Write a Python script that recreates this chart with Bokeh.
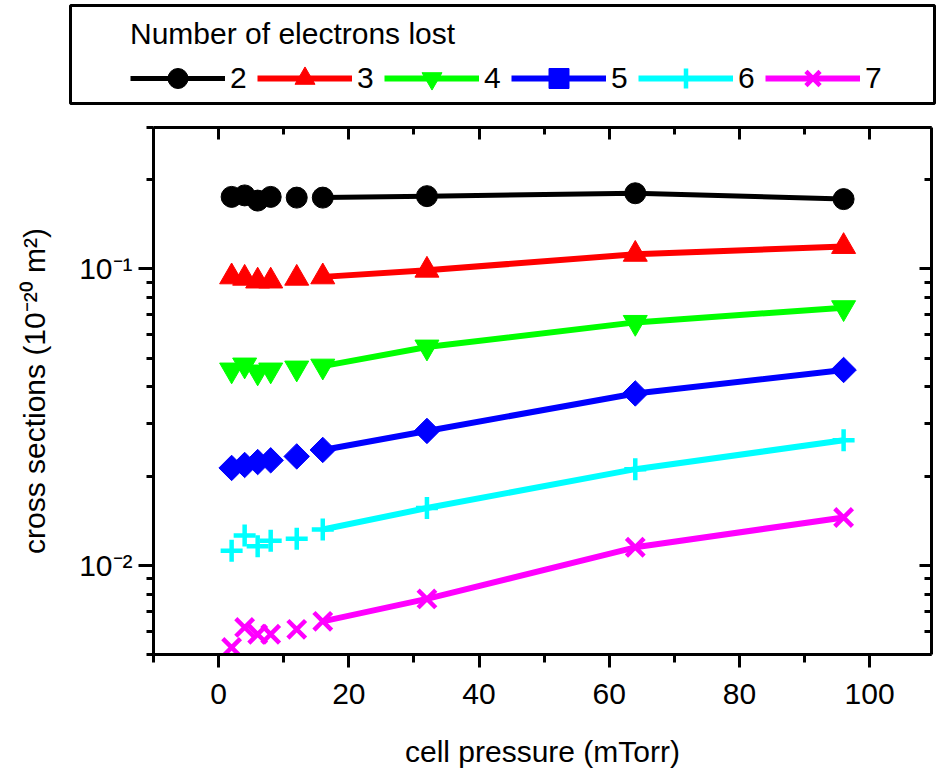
import numpy as np
from bokeh.plotting import figure
from bokeh.models import (LinearAxis, LogAxis, FixedTicker, Legend, LegendItem,
                          Range1d, CustomLabelingPolicy)
from bokeh.embed import file_html
from bokeh.resources import INLINE

# ---------------- data ----------------
pressure = [2, 4, 6, 8, 12, 16, 32, 64, 96]          # cell pressure (mTorr)
series_names = ["2", "3", "4", "5", "6", "7"]          # number of electrons lost
cs_2 = [0.175, 0.177, 0.170, 0.175, 0.174, 0.174, 0.176, 0.180, 0.172]
cs_3 = [0.094, 0.093, 0.091, 0.091, 0.093, 0.094, 0.099, 0.112, 0.119]
cs_4 = [0.0456, 0.0474, 0.0449, 0.0456, 0.0463, 0.0470, 0.0545, 0.066, 0.074]
cs_5 = [0.0213, 0.0218, 0.0223, 0.0226, 0.0233, 0.0245, 0.0284, 0.0380, 0.0456]
cs_6 = [0.0112, 0.0126, 0.0116, 0.0121, 0.0123, 0.0132, 0.0156, 0.0211, 0.0264]
cs_7 = [0.00528, 0.00617, 0.00585, 0.00585, 0.00608, 0.00647, 0.0077, 0.0115, 0.0145]
line_from_pressure = 16   # connecting line drawn from this pressure on

x_major_ticks = [0, 20, 40, 60, 80, 100]
x_minor_ticks = [-10, 10, 30, 50, 70, 90, 110]
y_major_ticks = [0.01, 0.1]
y_minor_ticks = [0.005, 0.006, 0.007, 0.008, 0.009,
                 0.02, 0.03, 0.04, 0.05, 0.06, 0.07, 0.08, 0.09, 0.2, 0.3]
y_tick_labels = {0.01: "10\u207b\u00b2", 0.1: "10\u207b\u00b9"}
x_label = "cell pressure (mTorr)"
y_label = "cross sections (10\u207b\u00b2\u2070 m\u00b2)"
legend_title = "Number of electrons lost"

# ---------------- styles ----------------
FONT = "Liberation Sans"
colors = ["#000000", "#FF0000", "#00FF00", "#0000FF", "#00FFFF", "#FF00FF"]
markers = ["circle", "triangle", "inverted_triangle", "square", "cross", "x"]
msizes = [21, 24, 24, 18, 22, 25]
mangles = [0, 0, 0, np.pi / 4, 0, 0]
lwidths = [5, 6, 6, 6, 6, 6]
series = [cs_2, cs_3, cs_4, cs_5, cs_6, cs_7]


def add_series(fig, i, vals):
    lx = [x for x in pressure if x >= line_from_pressure]
    ly = [v for x, v in zip(pressure, vals) if x >= line_from_pressure]
    lr = fig.line(lx, ly, line_color=colors[i], line_width=lwidths[i])
    if markers[i] in ("cross", "x"):
        sr = fig.scatter(pressure, vals, marker=markers[i], size=msizes[i],
                         angle=mangles[i], line_color=colors[i], line_width=4.5,
                         fill_color=None)
    else:
        sr = fig.scatter(pressure, vals, marker=markers[i], size=msizes[i],
                         angle=mangles[i], line_color=colors[i], line_width=1,
                         fill_color=colors[i])
    return lr, sr


# ---------------- main plot ----------------
p = figure(width=936, height=674,
           x_range=Range1d(-10, 109.5), y_range=Range1d(0.005, 0.3),
           y_axis_type="log", output_backend="svg", toolbar_location=None,
           min_border_left=153, min_border_right=1,
           min_border_top=21, min_border_bottom=126)
p.xgrid.visible = False
p.ygrid.visible = False
p.outline_line_color = None

xt = FixedTicker(ticks=x_major_ticks, minor_ticks=x_minor_ticks)
yt = FixedTicker(ticks=y_major_ticks, minor_ticks=y_minor_ticks)

xa = p.xaxis[0]
xa.ticker = xt
xa.axis_label = x_label
ya = p.yaxis[0]
ya.ticker = yt
ya.major_label_overrides = y_tick_labels
ya.axis_label = y_label

for ax in (xa, ya):
    ax.axis_line_width = 3
    ax.axis_line_color = "black"
    ax.major_tick_line_width = 3
    ax.minor_tick_line_width = 3
    ax.major_tick_in = 0
    ax.minor_tick_in = 0
    ax.major_label_text_font = FONT
    ax.major_label_text_font_size = "30px"
    ax.major_label_text_color = "black"
    ax.axis_label_text_font = FONT
    ax.axis_label_text_font_size = "30px"
    ax.axis_label_text_font_style = "normal"
    ax.axis_label_text_color = "black"

xa.major_tick_out = 13
xa.minor_tick_out = 8
xa.major_label_standoff = 16
xa.axis_label_standoff = 28
ya.major_tick_out = 15
ya.minor_tick_out = 7
ya.major_label_standoff = 6
ya.axis_label_standoff = 25

no_labels = CustomLabelingPolicy(code="for (const i of indices) indices.unset(i); return indices")
top_ax = LinearAxis(ticker=xt)
right_ax = LogAxis(ticker=yt)
for ax in (top_ax, right_ax):
    ax.axis_line_width = 3
    ax.major_tick_line_width = 3
    ax.minor_tick_line_width = 3
    ax.major_tick_out = 0
    ax.minor_tick_out = 0
    ax.major_tick_in = 12
    ax.minor_tick_in = 7
    ax.major_label_policy = no_labels
    ax.major_label_text_font_size = "1px"
    ax.major_label_standoff = 0
p.add_layout(top_ax, "above")
p.add_layout(right_ax, "right")

for i, vals in enumerate(series):
    add_series(p, i, vals)

# ---------------- legend panel (separate root above the plot) ----------------
# its frame is the legend box; the series glyphs here fall outside its range,
# they only feed the legend swatches
lg = figure(width=936, height=106, x_range=Range1d(0, 1), y_range=Range1d(0, 1),
            output_backend="svg", toolbar_location=None,
            min_border_left=70, min_border_right=2,
            min_border_top=5, min_border_bottom=3)
lg.axis.visible = False
lg.xgrid.visible = False
lg.ygrid.visible = False
lg.outline_line_color = "black"
lg.outline_line_width = 3

items = []
for i, (name, vals) in enumerate(zip(series_names, series)):
    lr, sr = add_series(lg, i, vals)
    items.append(LegendItem(label=name, renderers=[lr, sr]))

legend = Legend(items=items, orientation="horizontal", location=(60, 0),
                title=legend_title, title_text_font=FONT,
                title_text_font_size="30px", title_text_font_style="normal",
                title_text_color="black", title_standoff=2,
                label_text_font=FONT, label_text_font_size="30px",
                label_text_color="black",
                glyph_width=95, glyph_height=50, label_standoff=5,
                label_width=20, spacing=7, padding=0, margin=0,
                border_line_alpha=0, background_fill_alpha=0)
lg.add_layout(legend, "center")

open("out.html", "w").write(file_html([lg, p], INLINE))
